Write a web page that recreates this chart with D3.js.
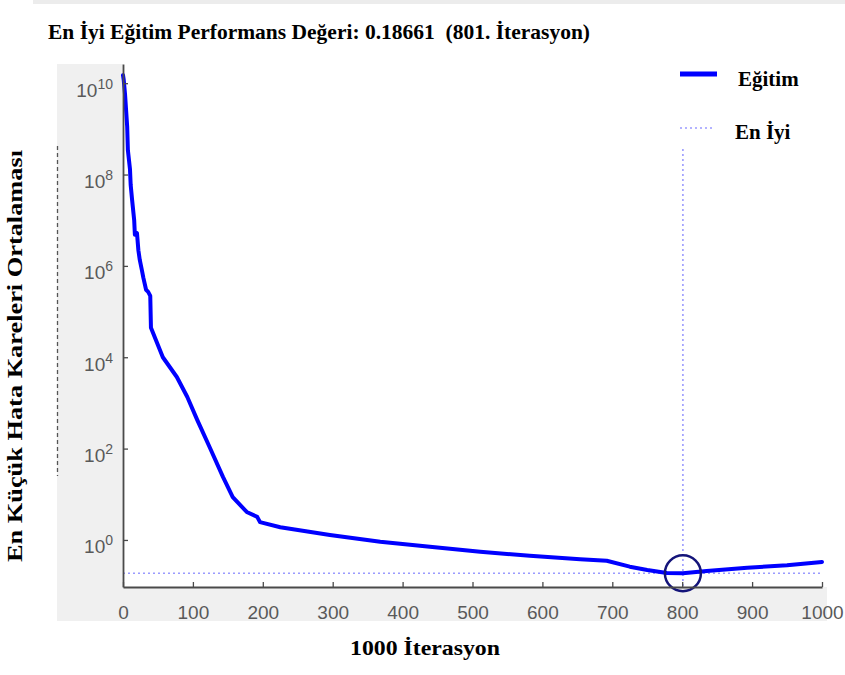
<!DOCTYPE html>
<html>
<head>
<meta charset="utf-8">
<script src="https://cdn.jsdelivr.net/npm/d3@7"></script>
<style>
  body { margin: 0; background: #fff; }
  svg { display: block; }
</style>
</head>
<body>
<svg id="chart" width="845" height="675"></svg>
<script>
// iteration numbers and the mean squared error
const iterations = [0, 1, 3, 6, 7, 10, 11, 13, 16, 17, 20, 22, 24, 27, 29, 33, 36, 39, 40,
  57, 77, 92, 106, 124, 143, 157, 177, 192, 196, 225, 296, 368, 439, 511, 582, 654,
  692, 725, 750, 778, 801, 835, 893, 950, 1000];
const mseValues = [1.5e10, 1.2e10, 5.5e9, 1.1e9, 3.4e8, 1.3e8, 5.9e7, 2.8e7, 1.0e7, 4.8e6,
  5.2e6, 2.2e6, 1.35e6, 8.1e5, 5.6e5, 3.0e5, 2.7e5, 2.2e5, 4.4e4,
  1.0e4, 3.7e3, 1.35e3, 430, 107, 24, 8.7, 4.1, 3.2, 2.45, 1.9, 1.29, 0.91, 0.71, 0.55,
  0.45, 0.38, 0.35, 0.26, 0.22, 0.19, 0.18661, 0.21, 0.245, 0.28, 0.33];

const xTicks = [0, 100, 200, 300, 400, 500, 600, 700, 800, 900, 1000];
const yTickExps = [0, 2, 4, 6, 8, 10];

const bestIter = 801;
const bestValue = 0.18661;

const titleText = "En İyi Eğitim Performans Değeri: 0.18661  (801. İterasyon)";
const xLabel = "1000 İterasyon";
const yLabel = "En Küçük Hata Kareleri Ortalaması";
const legendNames = ["Eğitim", "En İyi"];

let svg = d3.select("#chart");
const serif = "'Liberation Serif', 'Times New Roman', serif";
const sans = "'Liberation Sans', Arial, Helvetica, sans-serif";

let x = d3.scaleLinear().domain([0, 1000]).range([123, 822]);
let y = d3.scaleLog().domain([Math.pow(10, -1.03), Math.pow(10, 10.42)]).range([587, 64]);

// faint strip left over at the very top
svg.append("rect").attr("x", 33).attr("y", 0).attr("width", 812).attr("height", 4).attr("fill", "#ececec");

// grey figure panel and white axes area
svg.append("rect").attr("x", 57).attr("y", 64).attr("width", 770).attr("height", 557).attr("fill", "#f0f0f0");
svg.append("rect").attr("x", 123).attr("y", 64).attr("width", 704).attr("height", 523).attr("fill", "#fff");

// dashed remnant at left edge of the panel
svg.append("line").attr("x1", 57.5).attr("x2", 57.5).attr("y1", 146).attr("y2", 476)
  .attr("stroke", "#555").attr("stroke-width", 1.3).attr("stroke-dasharray", "4,3");

// best value guide lines
svg.append("line")
  .attr("x1", x(0)).attr("x2", x(1000))
  .attr("y1", y(bestValue)).attr("y2", y(bestValue))
  .attr("stroke", "#9a9aff").attr("stroke-width", 1.6).attr("stroke-dasharray", "2,3");
svg.append("line")
  .attr("x1", x(bestIter)).attr("x2", x(bestIter))
  .attr("y1", 64).attr("y2", 587)
  .attr("stroke", "#9a9aff").attr("stroke-width", 1.6).attr("stroke-dasharray", "2,3");

// legend background hides the top of the guide line
svg.append("rect").attr("x", 668).attr("y", 58).attr("width", 164).attr("height", 89).attr("fill", "#fff");

// training curve
let lineGen = d3.line()
  .x((d, i) => x(iterations[i]))
  .y(d => y(d));

svg.append("path")
  .attr("d", lineGen(mseValues))
  .attr("fill", "none")
  .attr("stroke", "#0000ff")
  .attr("stroke-width", 4)
  .attr("stroke-linejoin", "round")
  .attr("stroke-linecap", "round");

// circle on the best point
svg.append("circle")
  .attr("cx", x(bestIter)).attr("cy", y(bestValue)).attr("r", 18)
  .attr("fill", "none").attr("stroke", "#14147a").attr("stroke-width", 2.5);

// x axis
let bottomAxis = d3.axisBottom(x).tickValues(xTicks).tickSizeInner(-5).tickSizeOuter(0)
  .tickFormat(d3.format("d"));
let xAxis = svg.append("g")
  .attr("transform", "translate(0, 587)")
  .call(bottomAxis);
xAxis.select(".domain").attr("stroke", "#4a4a4a").attr("stroke-width", 1.8);
xAxis.selectAll(".tick line").attr("stroke", "#4a4a4a").attr("stroke-width", 1.3);
xAxis.selectAll(".tick text")
  .attr("y", 32).attr("dy", null)
  .attr("fill", "#595959").attr("font-family", sans).attr("font-size", 19);

// y axis, log ticks written as 10 with a superscript
let leftAxis = d3.axisLeft(y)
  .tickValues(yTickExps.map(e => Math.pow(10, e)))
  .tickSizeInner(-5).tickSizeOuter(0)
  .tickFormat("");
let yAxis = svg.append("g")
  .attr("transform", "translate(123, 0)")
  .call(leftAxis);
yAxis.select(".domain").attr("stroke", "#4a4a4a").attr("stroke-width", 1.8);
yAxis.selectAll(".tick line").attr("stroke", "#4a4a4a").attr("stroke-width", 1.3);
yAxis.selectAll(".tick").each(function(d, i) {
  let t = d3.select(this).append("text")
    .attr("x", -10).attr("y", 13)
    .attr("text-anchor", "end")
    .attr("fill", "#595959").attr("font-family", sans).attr("font-size", 19);
  t.append("tspan").text("10");
  t.append("tspan").attr("dy", -8).attr("font-size", 14).text(yTickExps[i]);
});

// legend
svg.append("line").attr("x1", 680).attr("x2", 717).attr("y1", 74).attr("y2", 74)
  .attr("stroke", "#0000ff").attr("stroke-width", 5);
svg.append("line").attr("x1", 680).attr("x2", 714).attr("y1", 128).attr("y2", 128)
  .attr("stroke", "#9a9aff").attr("stroke-width", 1.6).attr("stroke-dasharray", "2,3");
svg.append("text").attr("x", 738).attr("y", 86)
  .attr("font-family", serif).attr("font-weight", "bold").attr("font-size", 21)
  .text(legendNames[0]);
svg.append("text").attr("x", 735).attr("y", 139)
  .attr("font-family", serif).attr("font-weight", "bold").attr("font-size", 21)
  .text(legendNames[1]);

// title and axis labels
svg.append("text").attr("x", 48).attr("y", 39)
  .attr("font-family", serif).attr("font-weight", "bold").attr("font-size", 21)
  .attr("textLength", 542).attr("lengthAdjust", "spacingAndGlyphs")
  .style("white-space", "pre")
  .text(titleText);

svg.append("text").attr("x", 350).attr("y", 655)
  .attr("font-family", serif).attr("font-weight", "bold").attr("font-size", 21)
  .attr("textLength", 150).attr("lengthAdjust", "spacingAndGlyphs")
  .text(xLabel);

svg.append("text")
  .attr("transform", "translate(22, 562) rotate(-90)")
  .attr("font-family", serif).attr("font-weight", "bold").attr("font-size", 20)
  .attr("textLength", 412).attr("lengthAdjust", "spacingAndGlyphs")
  .text(yLabel);
</script>
</body>
</html>
